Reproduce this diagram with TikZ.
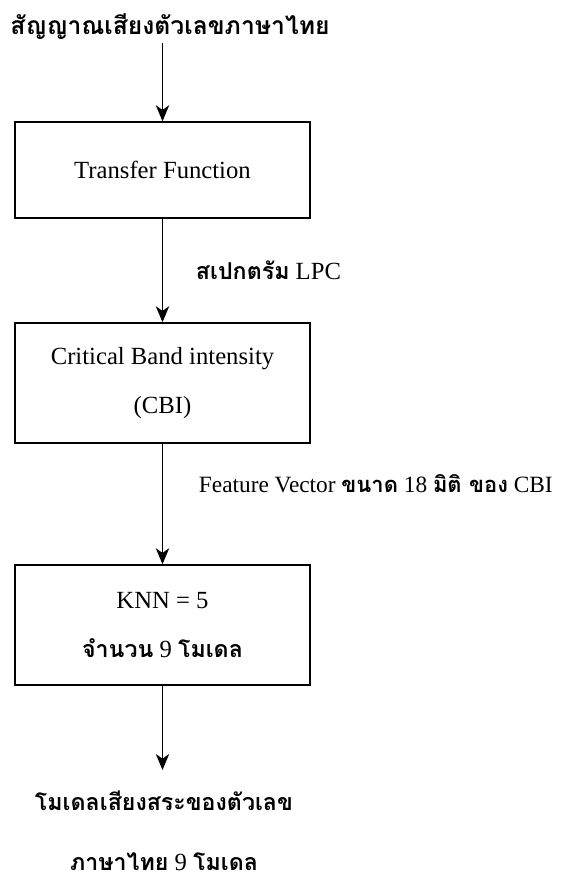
\documentclass[tikz,border=0pt]{standalone}
\usepackage{fontspec}
\setmainfont{Liberation Serif}
\newfontfamily\thai[Script=Thai,Scale=0.94]{Loma}
\usetikzlibrary{arrows.meta,positioning}
\tikzset{
  stage/.style={ % a processing block
    draw, line width=1.1pt, rectangle, minimum width=221pt,
    align=center, inner sep=4pt, text=black
  },
  flow/.style={
    line width=1.1pt, -{Stealth[length=12pt,width=10pt,inset=3.5pt]}
  },
  txt/.style={align=center, inner sep=2pt}
}
\begin{document}
\begin{tikzpicture}[x=0.75pt, y=-0.75pt, font=\fontsize{18.5}{37}\selectfont]
  \useasboundingbox (0,0) rectangle (577,884);

  \node[txt, font=\fontsize{19.7}{24}\selectfont] (signal) at (170,27) {\thai\bfseries สัญญาณเสียงตัวเลขภาษาไทย};
  \node[stage, minimum height=72pt] (tf) at (162.5,170) {Transfer Function};
  \node[stage, minimum height=90pt] (cbi) at (162.5,383) {Critical Band intensity\\(CBI)};
  \node[stage, minimum height=90pt] (knn) at (162.5,625) {KNN = 5\\{\thai\bfseries จำนวน} 9 {\thai\bfseries โมเดล}};
  \node[txt, font=\fontsize{18.5}{45}\selectfont] (model) at (164,831)
    {\thai\bfseries โมเดลเสียงสระของตัวเลข\\{\thai\bfseries ภาษาไทย} 9 {\thai\bfseries โมเดล}};
  \coordinate (tip) at (162.5,770);

  \node[txt, anchor=west] (lpc) at (193,270) {{\thai\bfseries สเปกตรัม} LPC};
  \node[txt, anchor=west, font=\fontsize{17.5}{21}\selectfont] (fv) at (196,484)
    {Feature Vector {\thai\bfseries ขนาด} 18 {\thai\bfseries มิติ ของ} CBI};

  \draw[flow] (signal.south -| tf.north) -- (tf.north);
  \draw[flow] (tf) -- (cbi);
  \draw[flow] (cbi) -- (knn);
  \draw[flow] (knn) -- (tip);
\end{tikzpicture}
\end{document}
